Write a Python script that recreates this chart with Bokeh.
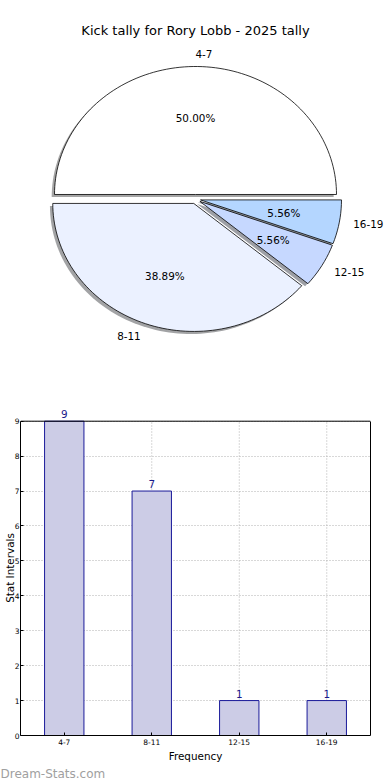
import numpy as np
from bokeh.plotting import figure
from bokeh.layouts import column
from bokeh.models import (Range1d, FactorRange, Label, LabelSet, ColumnDataSource,
                          FixedTicker, Title, LinearAxis, Span)
from bokeh.core.properties import value
from bokeh.embed import file_html
from bokeh.resources import INLINE

# ---------------- data ----------------
title_text = "Kick tally for Rory Lobb - 2025 tally"
categories = ["4-7", "8-11", "12-15", "16-19"]
counts = [9, 7, 1, 1]
pie_colors = ["#ffffff", "#ebf1ff", "#c6d8ff", "#b4d6ff"]
y_ticks = [0, 1, 2, 3, 4, 5, 6, 7, 8, 9]
x_axis_label = "Frequency"
y_axis_label = "Stat Intervals"
watermark = "Dream-Stats.com"

FONT = "DejaVu Sans"
W = 390

# ---------------- pie ----------------
PIE_H = 390
px_x, px_y = 141.0, 128.0          # pixels per unit radius
cx_px, cy_px = 195.0, 198.6        # pie centre in canvas pixels (from top-left)
explode = 0.036
shadow_off = (-0.02, -0.02)

p1 = figure(width=W, height=PIE_H, output_backend="svg", toolbar_location=None,
            x_axis_type=None, y_axis_type=None,
            x_range=Range1d(-cx_px / px_x, (W - cx_px) / px_x),
            y_range=Range1d(-(PIE_H - cy_px) / px_y, cy_px / px_y),
            min_border=0)
p1.frame_align = False
p1.grid.visible = False
p1.outline_line_color = None

total = float(sum(counts))
fracs = [c / total for c in counts]
theta = 0.0
wedges = []
for f, col in zip(fracs, pie_colors):
    t1, t2 = theta, theta + 2 * np.pi * f
    mid = 0.5 * (t1 + t2)
    ox, oy = explode * np.cos(mid), explode * np.sin(mid)
    ang = np.linspace(t1, t2, max(8, int(200 * f)))
    xs = np.concatenate([[ox], ox + np.cos(ang), [ox]])
    ys = np.concatenate([[oy], oy + np.sin(ang), [oy]])
    wedges.append((xs, ys, mid, ox, oy, col, f))
    theta = t2

def shade(c):
    c = c.lstrip("#")
    r, g, b = (int(c[i:i + 2], 16) for i in (0, 2, 4))
    return "#%02x%02x%02x" % (int(r * .3), int(g * .3), int(b * .3))

for xs, ys, mid, ox, oy, col, f in wedges:
    p1.patch(xs + shadow_off[0], ys + shadow_off[1], fill_color=shade(col),
             fill_alpha=0.5, line_color=None)
for xs, ys, mid, ox, oy, col, f in wedges:
    p1.patch(xs, ys, fill_color=col, line_color="black", line_width=0.8)

for (xs, ys, mid, ox, oy, col, f), cat in zip(wedges, categories):
    lx, ly = ox + 1.1 * np.cos(mid), oy + 1.1 * np.sin(mid)
    p1.add_layout(Label(x=lx, y=ly, text=cat,
                        text_align="left" if np.cos(mid) > 0 else "right",
                        text_baseline="middle", text_font=FONT,
                        text_font_size="10.4px", text_color="black"))
    px, py = ox + 0.6 * np.cos(mid), oy + 0.6 * np.sin(mid)
    p1.add_layout(Label(x=px, y=py, text="%.2f%%" % (100 * f),
                        text_align="center", text_baseline="middle",
                        text_font=FONT, text_font_size="10.4px",
                        text_color="black"))

p1.add_layout(Label(x=W / 2, y=PIE_H - 30, x_units="screen", y_units="screen",
                    text=title_text, text_align="center", text_baseline="middle",
                    text_font=FONT, text_font_size="13px", text_color="black"))

# ---------------- bars ----------------
BAR_H = 390
ymax = max(counts)
# frame reaches above the top spine (y = ymax) so the value labels fit
frame_top_px, spine_top_px, frame_bot_px = 400.0, 421.0, 740.0
y_end = ymax * (frame_bot_px - frame_top_px) / (frame_bot_px - spine_top_px)

p2 = figure(width=W, height=BAR_H, output_backend="svg", toolbar_location=None,
            x_range=FactorRange(*categories, range_padding=0),
            y_range=Range1d(0, y_end),
            min_border_top=10, min_border_bottom=20, min_border_right=20,
            min_border_left=20)
p2.frame_align = False
p2.outline_line_color = None

src = ColumnDataSource(dict(cat=categories, val=counts,
                            lab=[str(c) for c in counts],
                            base=[0] * len(counts), top=[ymax] * len(counts)))
# vertical dotted grid lines, only inside the box
p2.segment(x0="cat", y0="base", x1="cat", y1="top", source=src,
           line_color="#b0b0b0", line_dash="1 2", line_width=1)
p2.vbar(x="cat", top="val", width=0.45, source=src, fill_color="#cccce6",
        line_color="#1a1a99", line_width=1)
p2.add_layout(LabelSet(x="cat", y="val", text="lab", source=src,
                       text_align="center", text_baseline="bottom", y_offset=3,
                       text_font=value(FONT), text_font_size=value("10.4px"),
                       text_color=value("#1a1a8c")))

p2.xgrid.visible = False
p2.ygrid.grid_line_color = "#b0b0b0"
p2.ygrid.grid_line_dash = "1 2"
p2.ygrid.grid_line_width = 1

left_ax = p2.left[0]
bottom_ax = p2.below[0]
left_ax.ticker = FixedTicker(ticks=y_ticks)
left_ax.bounds = (0, ymax)

for ax in (bottom_ax, left_ax):
    ax.major_tick_in = 3
    ax.major_tick_out = 0
    ax.minor_tick_line_color = None
    ax.axis_line_color = "black"
    ax.major_label_text_font = FONT
    ax.major_label_text_font_size = "7.5px"
    ax.major_label_text_color = "black"
    ax.axis_label_text_font = FONT
    ax.axis_label_text_font_size = "10.4px"
    ax.axis_label_text_font_style = "normal"
    ax.axis_label_text_color = "black"
left_ax.major_label_standoff = 1
left_ax.axis_label_standoff = -4
bottom_ax.major_label_standoff = 3
bottom_ax.axis_label_standoff = 2
bottom_ax.axis_label = x_axis_label
left_ax.axis_label = y_axis_label

# right spine (no ticks, no labels)
right_ax = LinearAxis(ticker=FixedTicker(ticks=[]), bounds=(0, ymax),
                      major_tick_in=0, major_tick_out=0,
                      minor_tick_line_color=None, axis_line_color="black")
p2.add_layout(right_ax, "right")
# top spine
p2.add_layout(Span(location=ymax, dimension="width", line_color="black",
                   line_width=1))

p2.add_layout(Title(text=watermark, align="left", text_font=FONT,
                    text_font_size="12px", text_color="#a0a0a0",
                    text_font_style="normal", standoff=0, offset=-20), "below")

layout = column(p1, p2)
open("out.html", "w").write(file_html(layout, INLINE))
